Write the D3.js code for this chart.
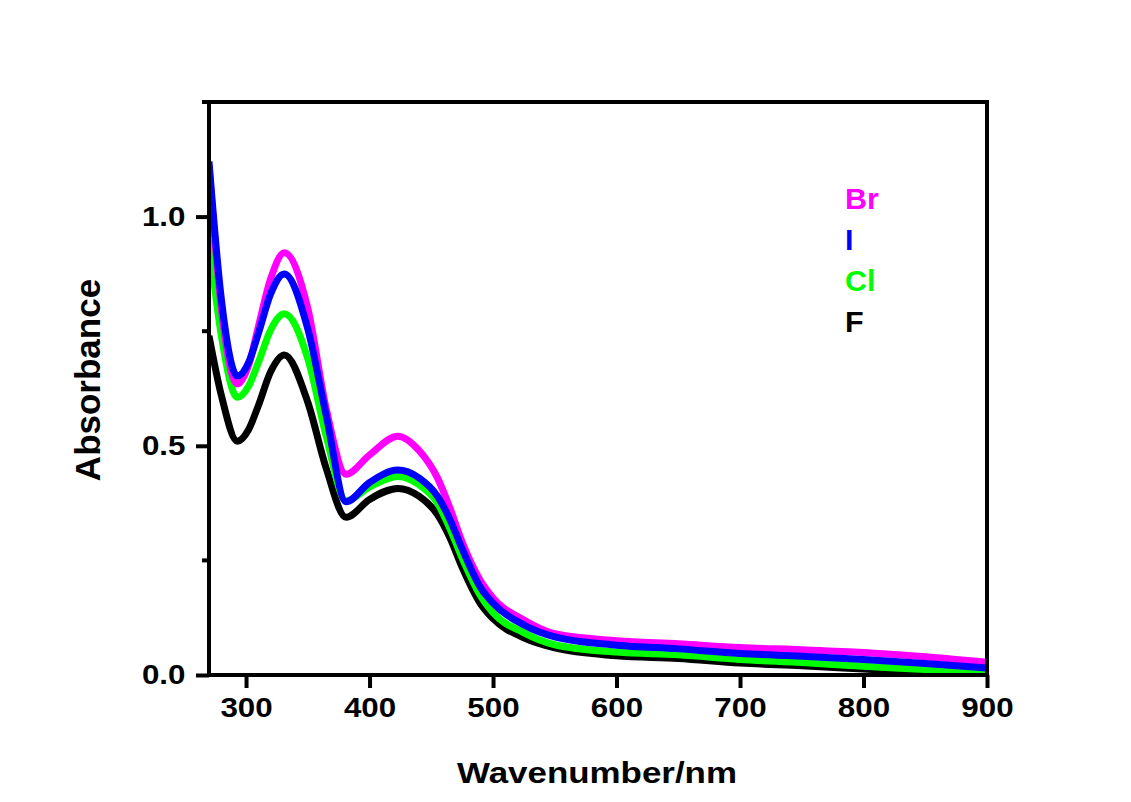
<!DOCTYPE html>
<html lang="en">
<head>
  <meta charset="UTF-8">
  <title>Absorbance spectra</title>
  <script src="https://d3js.org/d3.v7.min.js"></script>
  <style>
    body {
      margin: 0;
      background: #fff;
      font-family: Arial, "Liberation Sans", sans-serif;
    }
    svg {
      display: block;
    }
    .tick text {
      font-family: Arial, "Liberation Sans", sans-serif;
      font-weight: bold;
      font-size: 28px;
      fill: #000;
    }
  </style>
</head>
<body>
  <svg width="1131" height="802"></svg>

  <script>
    // wavelengths (nm) shared by every series
    const wavelengths = [270, 280, 293, 302, 310, 320, 331, 350, 365, 381, 400, 423, 440, 455, 465, 475, 490, 500, 525, 550, 600, 650, 700, 750, 800, 850, 900];

    const brValues = [1.11, 0.80, 0.635, 0.675, 0.76, 0.865, 0.921, 0.80, 0.58, 0.438, 0.48, 0.521, 0.49, 0.43, 0.365, 0.29, 0.205, 0.168, 0.12, 0.09, 0.075, 0.068, 0.06, 0.055, 0.049, 0.04, 0.028];
    const iValues  = [1.12, 0.82, 0.652, 0.681, 0.745, 0.832, 0.875, 0.755, 0.565, 0.378, 0.42, 0.447, 0.43, 0.39, 0.34, 0.275, 0.19, 0.157, 0.109, 0.083, 0.065, 0.057, 0.047, 0.041, 0.034, 0.025, 0.015];
    const clValues = [0.95, 0.74, 0.606, 0.63, 0.682, 0.753, 0.788, 0.69, 0.52, 0.38, 0.41, 0.433, 0.415, 0.375, 0.32, 0.255, 0.172, 0.136, 0.092, 0.066, 0.05, 0.044, 0.034, 0.027, 0.019, 0.012, 0.004];
    const fValues  = [0.74, 0.61, 0.51, 0.535, 0.588, 0.662, 0.698, 0.595, 0.45, 0.344, 0.383, 0.407, 0.39, 0.35, 0.30, 0.235, 0.155, 0.123, 0.081, 0.059, 0.042, 0.036, 0.026, 0.02, 0.013, 0.006, 0.0];

    const seriesNames  = ["Br", "I", "Cl", "F"];
    const seriesColors = ["#ff00ff", "#0000ff", "#00ff00", "#000000"];
    const seriesValues = [brValues, iValues, clValues, fValues];
    const drawOrder = ["F", "Cl", "Br", "I"];

    const xTicks = [300, 400, 500, 600, 700, 800, 900];
    const yTicks = [0.0, 0.5, 1.0];
    const yMinorTicks = [0.25, 0.75, 1.25];

    const margin = {top: 102, right: 144, bottom: 127, left: 209};
    const width = 1131 - margin.left - margin.right;
    const height = 802 - margin.top - margin.bottom;

    const svg = d3.select("svg");
    const g = svg.append("g")
      .attr("transform", `translate(${margin.left},${margin.top})`);

    const x = d3.scaleLinear().domain([270, 900]).range([0, width]);
    const y = d3.scaleLinear().domain([0, 1.25]).range([height, 0]);

    const series = seriesNames.map((name, i) => ({
      name,
      color: seriesColors[i],
      points: wavelengths.map((w, j) => [w, seriesValues[i][j]])
    }));

    const line = d3.line()
      .x(d => x(d[0]))
      .y(d => y(d[1]))
      .curve(d3.curveMonotoneX);

    g.append("clipPath").attr("id", "clip")
      .append("rect").attr("width", width).attr("height", height);

    g.append("g").attr("clip-path", "url(#clip)")
      .selectAll("path")
      .data(drawOrder.map(n => series.find(s => s.name === n)))
      .join("path")
      .attr("d", d => line(d.points))
      .attr("fill", "none")
      .attr("stroke", d => d.color)
      .attr("stroke-width", 7)
      .attr("stroke-linejoin", "round");

    // frame
    g.append("rect")
      .attr("width", width)
      .attr("height", height)
      .attr("fill", "none")
      .attr("stroke", "#000")
      .attr("stroke-width", 4);

    // axes
    const xAxis = d3.axisBottom(x)
      .tickValues(xTicks)
      .tickFormat(d3.format("d"))
      .tickSize(13)
      .tickPadding(9);

    const yAxis = d3.axisLeft(y)
      .tickValues(yTicks)
      .tickFormat(d3.format(".1f"))
      .tickSize(13)
      .tickPadding(8);

    const gx = g.append("g")
      .attr("transform", `translate(0,${height})`)
      .call(xAxis);
    const gy = g.append("g").call(yAxis);

    [gx, gy].forEach(a => {
      a.select(".domain").remove();
      a.selectAll(".tick line").attr("stroke", "#000").attr("stroke-width", 4);
    });
    gx.selectAll(".tick text").attr("transform", "scale(1.12,1)");
    gy.selectAll(".tick text").attr("transform", "scale(1.12,1)");

    g.append("g")
      .selectAll("line")
      .data(yMinorTicks)
      .join("line")
      .attr("x1", -7)
      .attr("x2", 0)
      .attr("y1", d => y(d))
      .attr("y2", d => y(d))
      .attr("stroke", "#000")
      .attr("stroke-width", 4);

    // axis titles
    svg.append("text")
      .attr("x", 457)
      .attr("y", 783)
      .attr("font-size", 29)
      .attr("font-weight", "bold")
      .attr("textLength", 280)
      .attr("lengthAdjust", "spacingAndGlyphs")
      .text("Wavenumber/nm");

    svg.append("text")
      .attr("transform", "translate(100,380) rotate(-90)")
      .attr("text-anchor", "middle")
      .attr("font-size", 35)
      .attr("font-weight", "bold")
      .text("Absorbance");

    // legend
    svg.append("g")
      .selectAll("text")
      .data(series)
      .join("text")
      .attr("transform", (d, i) => `translate(845,${209 + i * 41}) scale(1.05,1)`)
      .attr("font-size", 29)
      .attr("font-weight", "bold")
      .attr("fill", d => d.color)
      .text(d => d.name);
  </script>
</body>
</html>
